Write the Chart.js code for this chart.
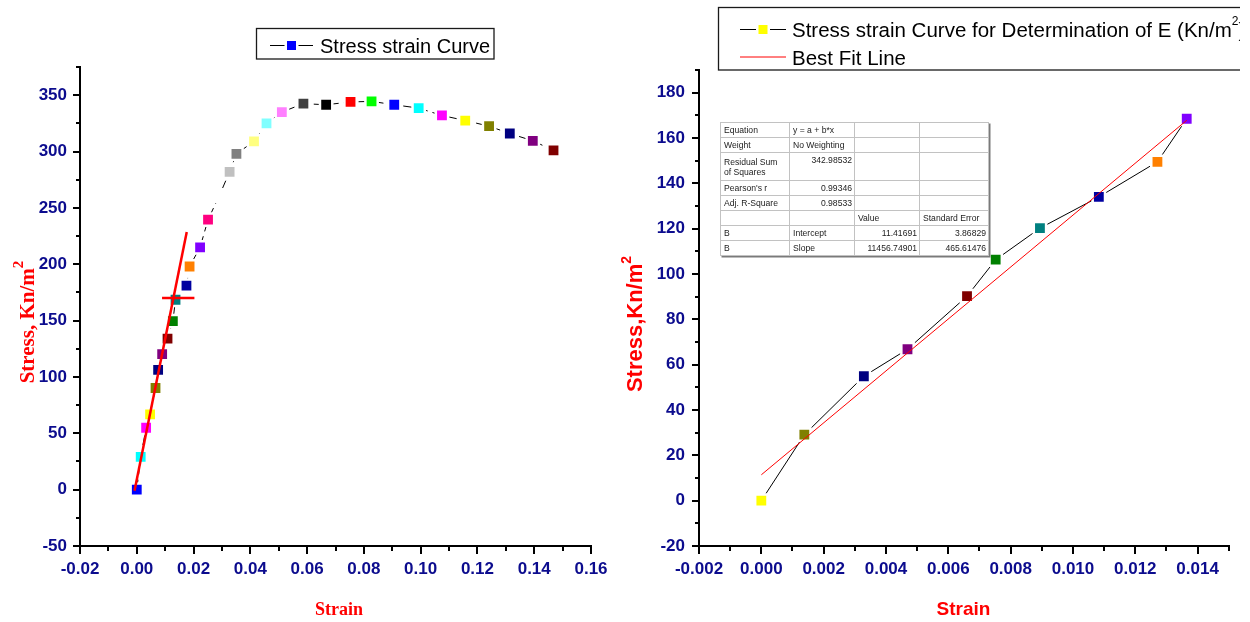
<!DOCTYPE html>
<html>
<head>
<meta charset="utf-8">
<title>Stress–strain curves</title>
<script src="https://cdn.jsdelivr.net/npm/chart.js@4.4.1/dist/chart.umd.min.js"></script>
<style>
  html, body { margin: 0; padding: 0; background: #fff; }
  #page { position: relative; width: 1250px; height: 622px; overflow: hidden; background: #fff; }
  #full { position: absolute; left: 0; top: 0; }
  #elastic { position: absolute; left: 620px; top: 0; }
  #fitTable {
    position: absolute; left: 720px; top: 122px; width: 268px;
    border-collapse: collapse; table-layout: fixed;
    font-family: "Liberation Sans", Arial, sans-serif; font-size: 8.6px; color: #222;
    background: #fff; border: 1.5px solid #2e2e2e; box-shadow: 1.5px 1.5px 0 #7a7a7a;
  }
  #fitTable td {
    border: 1px solid #c2c2c2; padding: 0 2px 0 3px; line-height: 10px;
    white-space: nowrap; overflow: hidden; vertical-align: middle;
  }
  #fitTable td.num { text-align: right; }
  #fitTable td.top { vertical-align: top; padding-top: 2px; }
</style>
</head>
<body>
<div id="page">
  <canvas id="full" width="620" height="622"></canvas>
  <canvas id="elastic" width="620" height="622"></canvas>
  <table id="fitTable"></table>
</div>
<script>
// ---- Test readings: strain (-) and stress (kN/m²) ----
const strain = [0, 0.00138, 0.00329, 0.00469, 0.0066, 0.00752, 0.00894, 0.01083, 0.01271, 0.01365,
  0.0175, 0.0186, 0.0223, 0.0251, 0.0291, 0.0327, 0.0351, 0.0413, 0.0457, 0.0511,
  0.0587, 0.0667, 0.0753, 0.0827, 0.0907, 0.0993, 0.1075, 0.1157, 0.1241, 0.1314, 0.1395, 0.1468];
const stress = [0, 29.1, 54.9, 66.8, 90.2, 106.3, 120.2, 134.0, 149.5, 168.5,
  181, 198, 215, 239.5, 261, 282, 298, 309, 325, 335,
  342.5, 341.5, 344, 344.5, 341.5, 338.5, 332, 327.5, 322.5, 316, 309.5, 301];
// one colour per reading (plotting-package palette cycle)
const pointColors = ['#0000FF', '#00FFFF', '#FF00FF', '#FFFF00', '#808000', '#000080', '#800080', '#800000',
  '#008000', '#008080', '#0000A0', '#FF8000', '#8000FF', '#FF0080', '#FFFFFF', '#C0C0C0',
  '#808080', '#FFFF80', '#80FFFF', '#FF80FF', '#404040', '#000000', '#FF0000', '#00FF00',
  '#0000FF', '#00FFFF', '#FF00FF', '#FFFF00', '#808000', '#000080', '#800080', '#800000'];

// elastic range used for the modulus (first ten readings)
const elasticCount = 10;
const elasticColors = ['#FFFF00', '#808000', '#000080', '#800080', '#800000', '#008000', '#008080', '#0000A0', '#FF8000', '#8000FF'];

// linear regression of the elastic range
const fitIntercept = 11.41691;
const fitSlope = 11456.74901;
const fitInterceptErr = 3.86829;
const fitSlopeErr = 465.61476;
const fitRSS = 342.98532;
const fitPearson = 0.99346;
const fitAdjR2 = 0.98533;

// hand-drawn construction lines on the full curve
const tangentStrain = [-0.0008, 0.0176];
const tangentStress = [-0.9, 228.6];
const markStrain = [0.0089, 0.0203];
const markStress = [170, 170];

// axis ticks
const fullXTicks = [-0.02, 0, 0.02, 0.04, 0.06, 0.08, 0.10, 0.12, 0.14, 0.16];
const fullXMinor = [-0.01, 0.01, 0.03, 0.05, 0.07, 0.09, 0.11, 0.13, 0.15];
const fullYTicks = [-50, 0, 50, 100, 150, 200, 250, 300, 350];
const fullYMinor = [-25, 25, 75, 125, 175, 225, 275, 325, 375];
const elasticXTicks = [-0.002, 0, 0.002, 0.004, 0.006, 0.008, 0.010, 0.012, 0.014];
const elasticXMinor = [-0.001, 0.001, 0.003, 0.005, 0.007, 0.009, 0.011, 0.013, 0.015];
const elasticYTicks = [-20, 0, 20, 40, 60, 80, 100, 120, 140, 160, 180];
const elasticYMinor = [-10, 10, 30, 50, 70, 90, 110, 130, 150, 170, 190];

// ---- styling helpers ----
const NAVY = '#0c0c8e';
const SANS = '"Liberation Sans", Arial, sans-serif';
const SERIF = '"Liberation Serif", "Times New Roman", serif';
const tickFont = { family: SANS, size: 17, weight: 'bold' };

function linearAxis(o) {
  return {
    type: 'linear', min: o.min, max: o.max,
    afterBuildTicks: s => { s.ticks = o.ticks.map(v => ({ value: v })); },
    afterFit: s => { if (o.horizontal) s.height = o.size; else s.width = o.size; },
    grid: { display: true, drawOnChartArea: false, drawTicks: true, tickLength: o.tickLength, color: '#000', lineWidth: 2 },
    border: { display: true, color: '#000', width: 2 },
    ticks: { color: NAVY, font: tickFont, padding: o.padding, autoSkip: false, maxRotation: 0, callback: o.format }
  };
}

function drawMinorTicks(chart, xs, ys, xLen, yLen) {
  const { ctx, chartArea: a } = chart;
  const sx = chart.scales.x, sy = chart.scales.y;
  ctx.save();
  ctx.strokeStyle = '#000';
  ctx.lineWidth = 2;
  ctx.beginPath();
  xs.forEach(v => { const p = Math.round(sx.getPixelForValue(v)); ctx.moveTo(p, a.bottom); ctx.lineTo(p, a.bottom + xLen); });
  ys.forEach(v => { const p = Math.round(sy.getPixelForValue(v)); ctx.moveTo(a.left, p); ctx.lineTo(a.left - yLen, p); });
  ctx.stroke();
  ctx.restore();
}

// text made of runs (main text + raised superscript)
function runWidth(ctx, parts) {
  let w = 0;
  parts.forEach(p => { ctx.font = p.font; w += ctx.measureText(p.text).width; });
  return w;
}
function drawRun(ctx, parts, x, y) {
  let cx = x;
  parts.forEach(p => {
    ctx.font = p.font;
    ctx.fillText(p.text, cx, y - (p.rise || 0));
    cx += ctx.measureText(p.text).width;
  });
}
function drawVerticalTitle(ctx, parts, baselineX, centerY, color) {
  ctx.save();
  ctx.fillStyle = color;
  ctx.textBaseline = 'alphabetic';
  ctx.textAlign = 'left';
  const w = runWidth(ctx, parts);
  ctx.translate(baselineX, centerY + w / 2);
  ctx.rotate(-Math.PI / 2);
  drawRun(ctx, parts, 0, 0);
  ctx.restore();
}
function drawCenteredTitle(ctx, text, font, cx, baseline, color) {
  ctx.save();
  ctx.fillStyle = color;
  ctx.font = font;
  ctx.textAlign = 'center';
  ctx.textBaseline = 'alphabetic';
  ctx.fillText(text, cx, baseline);
  ctx.restore();
}
function legendSample(ctx, x0, x1, y, lineColor, markerColor) {
  ctx.save();
  ctx.strokeStyle = lineColor;
  ctx.lineWidth = 1;
  ctx.beginPath();
  ctx.moveTo(x0, y); ctx.lineTo(x1, y);
  ctx.stroke();
  if (markerColor) {
    const c = (x0 + x1) / 2;
    ctx.fillStyle = '#fff';
    ctx.fillRect(c - 7, y - 7, 14, 14);
    ctx.fillStyle = markerColor;
    ctx.fillRect(c - 4.5, y - 4.5, 9, 9);
  }
  ctx.restore();
}
function legendFrame(ctx, x0, y0, x1, y1) {
  ctx.save();
  ctx.strokeStyle = '#1a1a1a';
  ctx.lineWidth = 1.3;
  ctx.strokeRect(x0, y0, x1 - x0, y1 - y0);
  ctx.restore();
}

const markerStyle = {
  pointStyle: 'rect', pointRadius: 8.7, pointHoverRadius: 8.7,
  pointBorderColor: '#fff', pointBorderWidth: 2.5, pointHoverBorderWidth: 2.5
};

// ---- full stress–strain curve ----
const fullPoints = strain.map((x, i) => ({ x, y: stress[i] }));
const tangentPoints = tangentStrain.map((x, i) => ({ x, y: tangentStress[i] }));
const markPoints = markStrain.map((x, i) => ({ x, y: markStress[i] }));

const fullDecor = {
  id: 'fullDecor',
  afterDraw(chart) {
    const ctx = chart.ctx;
    drawMinorTicks(chart, fullXMinor, fullYMinor, 5, 4);
    // legend
    const ds = chart.data.datasets[2];
    legendFrame(ctx, 256.5, 28.5, 494, 59);
    legendSample(ctx, 270, 313, 45.5, '#000', pointColors[0]);
    ctx.save();
    ctx.fillStyle = '#000';
    ctx.font = '20px ' + SANS;
    ctx.textBaseline = 'alphabetic';
    ctx.fillText(ds.label, 320, 53);
    ctx.restore();
    // axis titles
    drawCenteredTitle(ctx, 'Strain', 'bold 18px ' + SERIF, 339, 615, '#FF0000');
    drawVerticalTitle(ctx, [
      { text: 'Stress, Kn/m', font: 'bold 21px ' + SERIF },
      { text: '2', font: 'bold 15px ' + SERIF, rise: 11 }
    ], 34, 322, '#FF0000');
  }
};

new Chart(document.getElementById('full'), {
  type: 'scatter',
  data: {
    datasets: [
      { label: 'tangent', data: tangentPoints, showLine: true, borderColor: '#FF0000', borderWidth: 2.5, pointRadius: 0, pointHoverRadius: 0 },
      { label: 'mark', data: markPoints, showLine: true, borderColor: '#FF0000', borderWidth: 2.5, pointRadius: 0, pointHoverRadius: 0 },
      Object.assign({
        label: 'Stress strain Curve', data: fullPoints, showLine: true,
        borderColor: '#000', borderWidth: 1, borderDash: [10, 5],
        pointBackgroundColor: pointColors
      }, markerStyle)
    ]
  },
  options: {
    responsive: false, animation: false, devicePixelRatio: 1, events: [],
    layout: { padding: { left: 0, top: 67, right: 29, bottom: 0 } },
    plugins: { legend: { display: false }, tooltip: { enabled: false } },
    scales: {
      x: linearAxis({ min: -0.02, max: 0.16, ticks: fullXTicks, horizontal: true, size: 76, tickLength: 8, padding: 5, format: v => v.toFixed(2) }),
      y: linearAxis({ min: -50, max: 375, ticks: fullYTicks, horizontal: false, size: 80, tickLength: 7, padding: 6, format: v => String(v) })
    }
  },
  plugins: [fullDecor]
});

// ---- elastic range with best-fit line ----
const elasticPoints = strain.slice(0, elasticCount).map((x, i) => ({ x, y: stress[i] }));
const fitX = [strain[0], strain[elasticCount - 1]];
const fitPoints = fitX.map(x => ({ x, y: fitIntercept + fitSlope * x }));

const elasticDecor = {
  id: 'elasticDecor',
  afterDraw(chart) {
    const ctx = chart.ctx;
    drawMinorTicks(chart, elasticXMinor, elasticYMinor, 5, 4);
    // legend (frame runs past the right edge)
    legendFrame(ctx, 98.5, 7.5, 700, 70);
    const curve = chart.data.datasets[1];
    const fit = chart.data.datasets[0];
    legendSample(ctx, 120, 166, 29.5, '#000', elasticColors[0]);
    legendSample(ctx, 120, 166, 57, '#FF0000', null);
    ctx.save();
    ctx.fillStyle = '#000';
    ctx.textBaseline = 'alphabetic';
    const [mainText, tail] = curve.label.split('²');
    drawRun(ctx, [
      { text: mainText, font: '20.5px ' + SANS },
      { text: '2', font: '12px ' + SANS, rise: 12 },
      { text: tail, font: '20.5px ' + SANS }
    ], 172, 37);
    ctx.font = '20.5px ' + SANS;
    ctx.fillText(fit.label, 172, 65);
    ctx.restore();
    // axis titles
    drawCenteredTitle(ctx, 'Strain', 'bold 19px ' + SANS, 343.5, 615, '#FF0000');
    drawVerticalTitle(ctx, [
      { text: 'Stress,Kn/m', font: 'bold 22px ' + SANS },
      { text: '2', font: 'bold 14px ' + SANS, rise: 11 }
    ], 22, 324, '#FF0000');
  }
};

new Chart(document.getElementById('elastic'), {
  type: 'scatter',
  data: {
    datasets: [
      { label: 'Best Fit Line', data: fitPoints, showLine: true, borderColor: '#FF0000', borderWidth: 1, pointRadius: 0, pointHoverRadius: 0 },
      Object.assign({
        label: 'Stress strain Curve for Determination of E (Kn/m²)', data: elasticPoints, showLine: true,
        borderColor: '#000', borderWidth: 1,
        pointBackgroundColor: elasticColors
      }, markerStyle)
    ]
  },
  options: {
    responsive: false, animation: false, devicePixelRatio: 1, events: [],
    layout: { padding: { left: 0, top: 70, right: 9, bottom: 0 } },
    plugins: { legend: { display: false }, tooltip: { enabled: false } },
    scales: {
      x: linearAxis({ min: -0.002, max: 0.015, ticks: elasticXTicks, horizontal: true, size: 76, tickLength: 8, padding: 5, format: v => v.toFixed(3) }),
      y: linearAxis({ min: -20, max: 190, ticks: elasticYTicks, horizontal: false, size: 79, tickLength: 7, padding: 7, format: v => String(v) })
    }
  },
  plugins: [elasticDecor]
});

// ---- regression summary table ----
const fitTableRows = [
  ['Equation', 'y = a + b*x', '', ''],
  ['Weight', 'No Weighting', '', ''],
  ['Residual Sum<br>of Squares', fitRSS.toFixed(5), '', ''],
  ["Pearson's r", fitPearson.toFixed(5), '', ''],
  ['Adj. R-Square', fitAdjR2.toFixed(5), '', ''],
  ['', '', 'Value', 'Standard Error'],
  ['B', 'Intercept', fitIntercept.toFixed(5), fitInterceptErr.toFixed(5)],
  ['B', 'Slope', fitSlope.toFixed(5), fitSlopeErr.toFixed(5)]
];
const fitRowHeights = [15, 15, 28, 15, 15, 15, 15, 15];
const fitColWidths = [69, 65, 65, 69];
(function buildTable() {
  const t = document.getElementById('fitTable');
  let html = '<colgroup>' + fitColWidths.map(w => `<col style="width:${w}px">`).join('') + '</colgroup>';
  fitTableRows.forEach((row, r) => {
    html += `<tr style="height:${fitRowHeights[r]}px">`;
    row.forEach((cell, c) => {
      const numeric = /^-?[0-9.]+$/.test(cell);
      const cls = [numeric ? 'num' : '', (numeric && r === 2) ? 'top' : ''].join(' ').trim();
      html += `<td class="${cls}">${cell}</td>`;
    });
    html += '</tr>';
  });
  t.innerHTML = html;
})();
</script>
</body>
</html>
